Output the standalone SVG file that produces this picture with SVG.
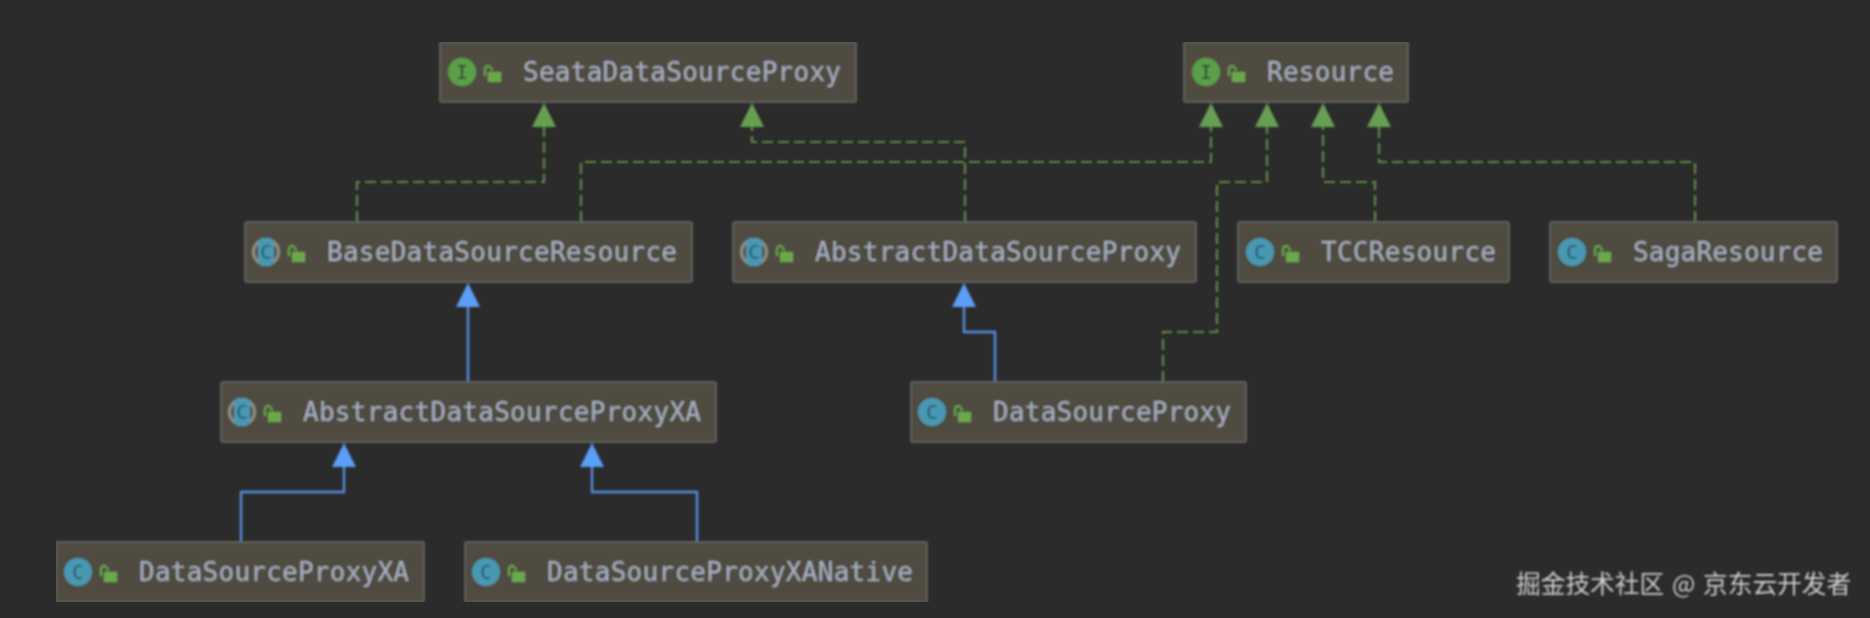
<svg xmlns="http://www.w3.org/2000/svg" width="1870" height="618" viewBox="0 0 1870 618">
<style>
.box{fill:#4f4c3f;stroke:#61615b;stroke-width:2}
.lbl{font-family:"DejaVu Sans Mono","Liberation Mono",monospace;font-size:26px;fill:#a7b0c2}
.ci{fill:#5a9f48}
.cc{fill:#4a98b2}
.hat{fill:none;stroke:#8f8f89;stroke-width:3}
.glyph{font-family:"DejaVu Sans Mono","Liberation Mono",monospace;font-size:19px;text-anchor:middle}
.lock{fill:#6aa84c}
.shk{fill:none;stroke:#6aa84c;stroke-width:2}
.impl{fill:none;stroke:#608c4c;stroke-width:2.200;stroke-dasharray:11 5;marker-end:url(#ga)}
.ext{fill:none;stroke:#5590e0;stroke-width:2.400;marker-end:url(#ba)}
.wm{font-family:"Noto Sans CJK SC","Liberation Sans",sans-serif;font-size:24.700px;fill:#cfcfcf}
</style>
<defs>
<filter id="soft" x="0" y="0" width="100%" height="100%"><feGaussianBlur stdDeviation="0.8"/></filter>
<marker id="ga" markerUnits="userSpaceOnUse" markerWidth="25" markerHeight="24" refX="0" refY="12" orient="auto"><path d="M0 0L24 12L0 24Z" fill="#67a052"/></marker>
<marker id="ba" markerUnits="userSpaceOnUse" markerWidth="25" markerHeight="24" refX="0" refY="12" orient="auto"><path d="M0 0L24 12L0 24Z" fill="#5c9df5"/></marker>
<g id="lk"><rect class="lock" x="4" y="5" width="13" height="10"/><path class="shk" d="M1 9V3Q1 -1 4 -1Q7 -1 8 4"/></g>
<g id="iI"><circle class="ci" r="14"/><text class="glyph" y="6.500" fill="#24402a">I</text></g>
<g id="iC"><circle class="cc" r="14"/><text class="glyph" y="6.500" fill="#1f4f6a">C</text></g>
<g id="iA"><circle class="hat" r="12.500"/><rect class="cc" x="-8" y="-14" width="16" height="28" rx="6"/><text class="glyph" y="6.500" fill="#1f4f6a">C</text></g>
</defs>
<rect width="1870" height="618" fill="#2b2b2b"/>
<g filter="url(#soft)">
<g id="connectors">
<path class="impl" d="M357 222V182H544V127"/>
<path class="impl" d="M581 222V162H1211V127"/>
<path class="impl" d="M965 222V142H752V127"/>
<path class="impl" d="M1163 382V332H1217V182H1267V127"/>
<path class="impl" d="M1375 222V182H1323V127"/>
<path class="impl" d="M1695 222V162H1379V127"/>
<path class="ext" d="M468 382V307"/>
<path class="ext" d="M995 382V332H964V307"/>
<path class="ext" d="M241 542V492H344V467"/>
<path class="ext" d="M697 542V492H592V467"/>
</g>
<g id="n-seata"><rect class="box" x="440" y="42" width="416" height="60" rx="2"/><use href="#iI" x="462" y="72"/><use href="#lk" x="484" y="67"/><text class="lbl" x="523" y="81" textLength="318">SeataDataSourceProxy</text></g>
<g id="n-resource"><rect class="box" x="1184" y="42" width="224" height="60" rx="2"/><use href="#iI" x="1206" y="72"/><use href="#lk" x="1228" y="67"/><text class="lbl" x="1267" y="81" textLength="127">Resource</text></g>
<g id="n-base"><rect class="box" x="245" y="222" width="447" height="60" rx="2"/><use href="#iA" x="266" y="252"/><use href="#lk" x="288" y="247"/><text class="lbl" x="327" y="261" textLength="350">BaseDataSourceResource</text></g>
<g id="n-abstract"><rect class="box" x="733" y="222" width="463" height="60" rx="2"/><use href="#iA" x="754" y="252"/><use href="#lk" x="776" y="247"/><text class="lbl" x="815" y="261" textLength="366">AbstractDataSourceProxy</text></g>
<g id="n-tcc"><rect class="box" x="1238" y="222" width="271" height="60" rx="2"/><use href="#iC" x="1260" y="252"/><use href="#lk" x="1282" y="247"/><text class="lbl" x="1321" y="261" textLength="175">TCCResource</text></g>
<g id="n-saga"><rect class="box" x="1550" y="222" width="287" height="60" rx="2"/><use href="#iC" x="1572" y="252"/><use href="#lk" x="1594" y="247"/><text class="lbl" x="1633" y="261" textLength="190">SagaResource</text></g>
<g id="n-abstractxa"><rect class="box" x="221" y="382" width="495" height="60" rx="2"/><use href="#iA" x="242" y="412"/><use href="#lk" x="264" y="407"/><text class="lbl" x="303" y="421" textLength="398">AbstractDataSourceProxyXA</text></g>
<g id="n-dsp"><rect class="box" x="911" y="382" width="335" height="60" rx="2"/><use href="#iC" x="932" y="412"/><use href="#lk" x="954" y="407"/><text class="lbl" x="993" y="421" textLength="238">DataSourceProxy</text></g>
<g id="n-dspxa"><rect class="box" x="56" y="542" width="368" height="60" rx="2"/><use href="#iC" x="78" y="572"/><use href="#lk" x="100" y="567"/><text class="lbl" x="139" y="581" textLength="270">DataSourceProxyXA</text></g>
<g id="n-dspxan"><rect class="box" x="465" y="542" width="462" height="60" rx="2"/><use href="#iC" x="486" y="572"/><use href="#lk" x="508" y="567"/><text class="lbl" x="547" y="581" textLength="366">DataSourceProxyXANative</text></g>
<text class="wm" y="593"><tspan x="1516">掘金技术社区</tspan><tspan x="1672">@</tspan><tspan x="1703">京东云开发者</tspan></text>
</g>
</svg>
